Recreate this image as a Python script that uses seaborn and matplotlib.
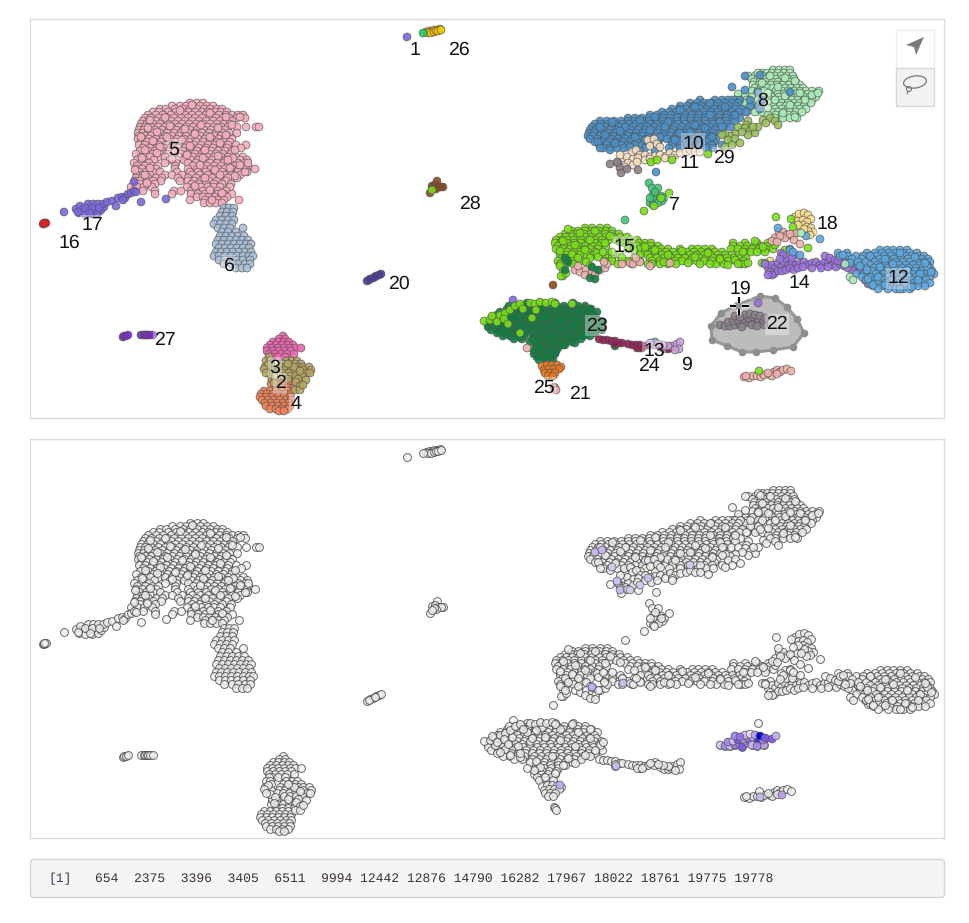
import matplotlib
matplotlib.use("Agg")
import matplotlib.pyplot as plt
import pandas as pd
import seaborn as sns
from matplotlib.colors import LinearSegmentedColormap
from matplotlib.patches import Circle, Ellipse, FancyBboxPatch, Polygon, Rectangle

sns.set_theme(style="white")
plt.rcParams["font.family"] = ["Liberation Sans", "DejaVu Sans"]
plt.rcParams["text.hinting"] = "no_hinting"

# embedding values, one dict per big cluster: {y: [x, x, ...]}
c5 = {103: [190, 197, 203], 106: [172, 180, 186, 193, 200, 207, 213],
      109: [160, 166, 175, 183, 190, 197, 204, 210, 217, 222],
      112: [153, 159, 168, 176, 182, 189, 195, 202, 208, 215, 221, 227],
      115: [148, 156, 163, 171, 178, 185, 192, 199, 206, 212, 219, 226, 232, 238, 243],
      118: [145, 151, 159, 167, 174, 181, 188, 195, 202, 209, 216, 223, 229, 237, 245],
      121: [143, 149, 156, 163, 171, 178, 185, 192, 199, 206, 213, 220, 226, 232],
      124: [141, 147, 153, 160, 168, 175, 182, 189, 196, 203, 210, 217, 224, 230],
      127: [140, 145, 151, 158, 165, 172, 179, 186, 193, 200, 207, 214, 221, 228, 237, 246, 256, 259],
      130: [139, 144, 149, 155, 162, 169, 176, 183, 190, 197, 204, 211, 218, 225],
      133: [138, 143, 148, 153, 160, 167, 174, 181, 188, 195, 202, 209, 216, 223, 229, 237],
      136: [139, 145, 151, 158, 165, 172, 179, 186, 193, 200, 207, 214, 221, 227],
      139: [138, 143, 149, 156, 163, 170, 177, 184, 191, 198, 205, 212, 219, 225, 232],
      142: [141, 147, 154, 161, 168, 175, 182, 189, 196, 203, 210, 217, 224, 230],
      145: [139, 145, 152, 159, 166, 173, 180, 187, 194, 201, 208, 215, 222, 228, 236, 246],
      148: [143, 150, 157, 164, 171, 178, 185, 192, 199, 206, 213, 220, 227, 241],
      151: [140, 148, 155, 162, 169, 176, 183, 190, 197, 204, 211, 218, 225, 232],
      154: [136, 146, 153, 160, 167, 174, 181, 188, 195, 202, 209, 216, 223, 231],
      157: [141, 150, 158, 165, 172, 179, 186, 193, 200, 207, 214, 221, 228, 236, 243],
      160: [137, 144, 154, 170, 177, 184, 191, 198, 205, 212, 219, 226, 233, 240, 247],
      163: [134, 141, 149, 165, 176, 188, 196, 203, 210, 217, 224, 231, 238, 245],
      166: [137, 145, 152, 158, 175, 193, 200, 207, 214, 221, 228, 235, 242, 248],
      169: [136, 142, 149, 156, 175, 188, 197, 204, 211, 218, 225, 232, 239, 246, 255],
      172: [139, 146, 153, 160, 177, 190, 198, 206, 214, 222, 230, 238, 247],
      175: [137, 143, 150, 165, 172, 182, 192, 200, 208, 216, 224, 232, 240],
      178: [136, 142, 148, 156, 162, 178, 188, 196, 204, 212, 220, 228, 237],
      181: [135, 140, 147, 153, 161, 180, 188, 194, 201, 209, 217, 226],
      184: [140, 147, 155, 192, 199, 206, 214, 222, 231],
      187: [131, 137, 144, 152, 187, 194, 201, 208, 214, 220, 230],
      191: [143, 155, 174, 181, 191, 196, 203, 210, 218, 226],
      194: [155, 172, 191, 198, 205, 212, 218, 224, 232],
      197: [197, 203, 209, 215, 221, 227],
      200: [190, 205, 212, 218, 224, 239],
      203: [204, 210, 216, 222]}
c6 = {208: [224, 229, 234], 212: [222, 227, 233], 216: [220, 226, 232], 220: [216, 222, 228, 234],
      224: [214, 220, 226, 232], 228: [218, 224, 230, 243], 232: [222, 228, 236],
      236: [220, 226, 232, 238, 244], 240: [218, 224, 230, 236, 242, 248],
      244: [216, 222, 228, 234, 240, 246, 251], 248: [219, 225, 231, 237, 243, 249],
      252: [216, 221, 227, 233, 239, 245, 251], 256: [214, 219, 225, 231, 237, 243, 249, 253],
      260: [219, 225, 231, 237, 243, 250], 264: [224, 232, 238, 245, 250], 268: [236, 242, 247]}
c3 = {336: [283], 339: [279, 285], 342: [273, 278, 284, 289], 345: [270, 276, 282, 288, 293],
      348: [267, 272, 278, 284, 290, 295, 301], 351: [267, 273, 279, 285, 291],
      354: [269, 275, 281, 287, 294], 357: [272, 278, 285]}
c2 = {357: [269], 361: [266, 270, 286, 292, 297], 364: [271, 283, 289, 295, 301],
      367: [265, 280, 286, 292, 298, 303, 309], 370: [271, 279, 285, 291, 297, 303, 311],
      373: [277, 283, 289, 295, 301, 307], 376: [284, 290, 296, 302], 379: [272, 288, 298],
      382: [296], 386: [300], 390: [295, 300]}
c4 = {376: [292], 380: [272, 278, 284, 290, 296], 384: [271, 277, 283, 289, 295], 388: [276, 282, 288, 294],
      391: [264, 270, 276, 282, 288], 394: [261, 267, 273, 279, 285, 291], 397: [260, 266, 272, 278, 284, 290],
      400: [262, 268, 274, 280, 286, 291], 403: [265, 271, 277, 283, 289], 406: [266, 272, 278, 284, 290],
      409: [270, 276, 282, 288], 411: [279, 284]}
c8 = {70: [773, 779, 785, 790], 73: [762, 767, 772, 778, 784, 790],
      76: [748, 755, 763, 769, 775, 781, 787, 793], 79: [752, 758, 764, 770, 776, 782, 788, 794],
      82: [754, 760, 766, 772, 778, 784, 790, 796], 85: [753, 759, 765, 771, 777, 783, 789, 795, 800],
      88: [755, 761, 767, 773, 779, 785, 791, 797, 803],
      91: [752, 758, 764, 776, 782, 788, 794, 800, 806, 812, 819],
      94: [757, 770, 778, 784, 790, 796, 802, 808, 815],
      97: [738, 745, 752, 765, 772, 779, 786, 792, 798, 804, 810, 816],
      100: [732, 740, 747, 758, 774, 780, 786, 792, 798, 804, 812],
      103: [726, 735, 743, 770, 776, 782, 788, 794, 800, 806, 811],
      106: [702, 710, 718, 732, 740, 748, 752, 774, 780, 786, 792, 798, 804],
      109: [697, 706, 715, 738, 755, 775, 782, 788, 794, 800, 806],
      112: [690, 700, 747, 755, 762, 772, 778, 784, 790, 796, 802],
      115: [768, 776, 782, 788, 794], 118: [775, 783, 790, 797]}
c10 = {100: [700, 715, 722, 728, 735, 740], 103: [690, 697, 704, 711, 718, 725, 732, 738],
       106: [680, 687, 694, 701, 708, 715, 722, 729, 736, 750, 758],
       109: [672, 679, 686, 693, 700, 707, 714, 721, 728, 735, 742, 760],
       112: [662, 669, 676, 683, 690, 697, 704, 711, 718, 725, 732, 739, 746],
       115: [650, 657, 664, 671, 678, 685, 692, 699, 706, 713, 720, 727, 734],
       118: [628, 635, 642, 649, 656, 663, 670, 677, 684, 691, 698, 705, 712, 719, 726, 733, 740],
       121: [600, 607, 614, 621, 628, 635, 642, 649, 656, 663, 670, 677, 684, 691, 698, 705, 712, 719, 726, 735],
       124: [595, 601, 608, 615, 622, 629, 636, 643, 650, 657, 664, 671, 678, 685, 692, 699, 706, 713, 720, 727],
       127: [592, 598, 605, 612, 619, 626, 633, 640, 647, 654, 661, 668, 675, 682, 689, 696, 703, 710, 717, 724, 731],
       130: [590, 596, 603, 610, 617, 624, 631, 638, 645, 652, 659, 666, 673, 680, 687, 694, 701, 708, 715, 722],
       133: [589, 594, 601, 608, 615, 622, 629, 636, 643, 650, 657, 664, 671, 678, 685, 692, 699, 706, 713, 720],
       136: [588, 593, 600, 607, 614, 621, 628, 635, 642, 649, 656, 663, 670, 677, 684, 691, 698, 705, 712],
       139: [590, 597, 604, 611, 618, 625, 632, 639, 646, 653, 660, 667, 674, 681, 688, 695, 702, 709, 716],
       142: [595, 602, 609, 616, 623, 630, 637, 644, 651, 658, 672, 679, 686, 693, 700, 707, 714],
       145: [600, 607, 614, 621, 628, 635, 642, 650, 658, 672, 680, 688, 696, 704, 712, 722],
       148: [603, 610, 617, 624, 631, 645, 669, 690, 698, 706, 713], 151: [640, 655]}
c15 = {228: [585, 592, 600, 607], 231: [572, 578, 585, 592, 599, 606, 612],
       234: [565, 571, 577, 584, 591, 598, 605, 612, 619],
       237: [560, 566, 572, 578, 585, 592, 599, 606, 613, 620, 627],
       240: [556, 562, 568, 574, 581, 588, 595, 602, 609, 616, 623, 630, 637],
       243: [555, 561, 567, 574, 581, 588, 595, 602, 625, 632, 639, 645, 651, 733, 745, 757, 768],
       246: [558, 564, 571, 578, 585, 592, 599, 606, 630, 637, 644, 651, 658, 733, 740, 747, 754, 762, 769],
       249: [556, 563, 570, 577, 584, 590, 598, 628, 640, 647, 654, 661, 668, 680, 692, 698, 705, 712, 731, 738, 745, 752, 759, 766, 773],
       252: [560, 567, 574, 581, 588, 595, 645, 652, 659, 666, 673, 680, 687, 694, 701, 708, 715, 722, 745, 751, 757, 765],
       255: [560, 566, 573, 580, 587, 594, 608, 620, 640, 648, 655, 662, 669, 676, 683, 690, 697, 704, 711, 718, 725, 732, 739],
       258: [562, 570, 590, 606, 612, 622, 650, 657, 664, 671, 678, 685, 692, 699, 706, 713, 720, 727, 734, 741, 746],
       261: [558, 572, 580, 604, 612, 628, 640, 652, 660, 668, 675, 682, 690, 697, 704, 712, 720, 728, 736, 744],
       264: [560, 566, 618, 632, 648, 660, 668, 676, 700, 716, 724, 741, 745],
       270: [563], 276: [563, 561]}
c12 = {250: [880, 887, 893, 900, 907], 253: [838, 847, 867, 875, 882, 889, 896, 903, 910, 917],
       256: [840, 848, 856, 863, 870, 877, 884, 891, 898, 905, 912, 919, 924],
       259: [852, 862, 872, 880, 887, 894, 901, 908, 915, 922, 928],
       262: [866, 875, 882, 889, 896, 903, 910, 917, 924, 930],
       265: [858, 870, 878, 885, 892, 899, 906, 913, 920, 927],
       268: [866, 874, 881, 888, 895, 902, 909, 916, 923, 930],
       271: [872, 880, 887, 894, 901, 908, 915, 922, 928, 932],
       274: [856, 864, 876, 884, 891, 898, 905, 912, 919, 926, 934],
       277: [862, 870, 880, 888, 895, 902, 909, 916, 923, 930],
       280: [866, 875, 884, 891, 898, 905, 912, 919, 926],
       283: [870, 878, 886, 893, 900, 907, 914, 921, 930],
       286: [873, 882, 890, 897, 904, 911, 918, 925], 289: [878, 888, 896, 903, 910]}
c23 = {303: [527, 540, 555, 573], 306: [515, 522, 529, 536, 543, 550, 557, 564, 571, 578, 585],
       309: [507, 514, 521, 528, 535, 542, 549, 556, 563, 570, 577, 584, 591],
       312: [500, 506, 513, 520, 527, 534, 541, 548, 555, 562, 569, 576, 583, 590, 597],
       315: [497, 503, 510, 517, 524, 531, 538, 545, 552, 559, 566, 573, 580, 587, 594],
       318: [492, 498, 505, 512, 519, 526, 533, 540, 547, 554, 561, 568, 575, 582, 589, 596],
       321: [490, 496, 503, 510, 517, 524, 531, 538, 545, 552, 559, 566, 573, 580, 587, 594, 601],
       324: [488, 494, 501, 508, 515, 522, 529, 536, 543, 550, 557, 564, 571, 578, 585, 592, 599],
       327: [488, 495, 502, 509, 516, 523, 530, 537, 544, 551, 558, 565, 572, 579, 586, 593, 600],
       330: [491, 498, 505, 512, 519, 526, 533, 540, 547, 554, 561, 568, 575, 582, 589, 596, 602],
       333: [497, 504, 511, 518, 525, 532, 539, 546, 553, 560, 567, 574, 581, 588, 595],
       336: [503, 510, 517, 524, 534, 541, 548, 555, 562, 569, 576, 583, 590],
       339: [514, 522, 532, 539, 546, 553, 560, 567, 574, 581],
       342: [530, 537, 544, 551, 558, 565, 572], 345: [536, 543, 550, 558, 565],
       348: [537, 544, 551, 558], 351: [535, 542, 549, 556], 354: [534, 541, 548, 555],
       357: [537, 544, 551], 360: [539, 546, 553]}

# off-row points inside the big clusters, as (x, y)
c5_more = [(150, 120), (165, 117.5), (180, 110.5), (192, 105), (210, 113), (226, 117), (240, 117), (148, 128),
           (157, 132), (170, 126), (185, 129), (201, 125), (218, 128), (232, 125), (141, 137), (153, 141), (167, 137),
           (182, 140), (195, 134), (210, 137), (226, 135), (145, 150), (160, 147), (175, 152), (190, 146), (205, 150),
           (220, 143), (235, 150), (142, 158), (157, 153), (172, 159), (187, 155), (203, 158), (218, 156), (233, 158),
           (248, 163), (150, 168), (200, 165), (215, 170), (230, 168), (245, 172), (205, 178), (220, 175), (235, 176),
           (145, 175), (195, 186), (210, 190), (222, 193), (212, 200), (147, 183), (135, 170), (228, 160), (240, 165)]
c10_more = [(600, 127), (612, 122), (625, 127), (640, 120), (655, 117), (668, 122), (680, 110), (695, 107), (710, 103),
            (725, 107), (605, 135), (620, 131), (635, 137), (650, 130), (665, 127), (680, 133), (695, 125), (710, 115),
            (615, 143), (630, 147), (645, 140), (660, 137), (675, 140), (690, 132), (705, 128), (720, 122), (735, 115),
            (598, 142), (700, 145), (712, 137), (722, 127), (610, 150), (600, 148), (680, 148)]
c15_more = [(568, 229), (580, 233), (595, 231), (610, 236), (563, 241), (575, 245), (590, 240), (605, 243), (620, 242),
            (560, 251), (572, 254), (585, 250), (597, 253), (566, 260), (578, 258), (586, 262), (612, 252), (622, 258),
            (634, 250), (634, 258), (645, 247), (655, 250), (668, 255), (682, 251), (695, 257), (708, 253), (720, 259),
            (735, 260), (748, 263), (652, 264), (664, 262), (688, 263), (710, 264), (728, 265), (738, 264), (743, 252),
            (755, 241), (763, 247), (775, 245), (560, 266), (573, 264), (566, 273), (598, 257), (603, 252), (590, 266)]
c12_more = [(843, 255), (858, 262), (870, 256), (885, 259), (900, 253), (915, 257), (927, 267), (880, 267), (893, 264),
            (907, 270), (920, 274), (867, 270), (878, 277), (892, 280), (905, 283), (918, 280), (931, 272), (925, 263),
            (885, 285), (900, 289), (912, 287), (868, 279), (860, 266), (850, 263), (873, 285)]
c23_more = [(495, 325), (505, 329), (518, 326), (530, 321), (545, 317), (560, 320), (575, 326), (590, 318), (600, 325),
            (512, 317), (527, 312), (542, 307), (560, 309), (578, 312), (590, 309), (500, 332), (520, 337), (536, 341),
            (552, 336), (568, 338), (585, 335), (540, 347), (555, 353), (545, 357), (534, 350), (563, 345), (575, 343),
            (595, 330), (603, 322), (510, 335)]
c8_more = [(758, 73), (770, 76), (785, 78), (762, 83), (778, 87), (795, 81), (768, 93), (785, 96), (800, 93), (812, 95),
           (760, 103), (775, 100), (790, 105), (805, 100), (818, 93), (768, 108), (783, 113), (795, 117), (745, 103),
           (722, 109), (708, 104), (738, 94)]
c2_more = [(268, 365), (264, 369), (270, 374), (275, 377), (266, 373), (274, 383), (306, 380), (303, 385), (294, 367),
           (288, 364), (300, 371), (310, 373)]

# small clusters and strays as (x, y)
c17 = [(64, 212), (76, 209), (79, 213), (82, 209), (85, 214), (89, 210), (92, 214), (95, 210), (98, 213),
       (101, 210), (104, 207), (80, 206), (88, 204), (93, 204), (98, 204), (103, 204), (107, 202), (112, 201),
       (116, 206), (118, 198), (122, 197), (125, 198), (123, 200), (128, 194), (131, 193), (134, 191),
       (134, 182), (141, 202), (166, 199), (136, 192), (78, 212), (85, 208), (92, 208), (99, 208), (90, 213),
       (407, 37), (513, 300)]
c16 = [(43, 224), (44, 224), (45, 223), (46, 223), (44, 223)]
c26 = [(426, 32), (429, 31), (432, 31), (434, 30), (437, 30), (440, 29), (428, 33), (431, 33), (434, 32), (436, 31),
       (438, 31), (441, 30)]
c1 = [(423, 33)]
c28 = [(430, 193), (437, 181), (443, 187), (432, 186), (435, 185), (438, 187), (441, 187), (436, 189), (434, 188),
       (553, 285), (502, 324), (508, 331)]
c20 = [(367, 281), (370, 279), (373, 278), (376, 276), (379, 275), (381, 274), (369, 280), (375, 277)]
c27 = [(123, 337), (124, 336), (126, 336), (128, 335), (141, 335), (144, 335), (145, 335), (147, 335), (148, 335),
       (150, 335), (153, 335)]
c10_stray = [(732, 87), (745, 76), (745, 90), (656, 172), (750, 100), (762, 100), (758, 92), (760, 75), (790, 92)]
c29 = [(763, 120), (770, 118), (775, 121), (778, 125), (766, 123), (748, 121), (746, 125), (738, 127), (745, 128),
       (750, 131), (755, 133), (748, 135), (742, 132), (735, 134), (730, 136), (725, 134), (722, 135), (728, 140),
       (735, 139), (740, 143), (732, 145), (725, 147), (758, 127), (753, 127)]
c11 = [(648, 140), (654, 139), (650, 146), (657, 144), (660, 147), (632, 152), (636, 150), (640, 155), (645, 155),
       (650, 157), (655, 156), (660, 155), (666, 156), (670, 153), (675, 155), (680, 153), (686, 152), (690, 150),
       (695, 152), (700, 152), (622, 158), (627, 157), (633, 159), (638, 158), (645, 160), (650, 159), (665, 158),
       (672, 158), (628, 163), (633, 165), (625, 167), (637, 162), (620, 155)]
c22 = [(610, 164), (618, 163), (620, 168), (621, 173), (627, 169), (638, 170), (617, 162),
       (720, 325), (725, 326), (730, 326), (735, 325), (740, 324), (745, 323), (750, 322), (755, 321), (760, 323),
       (764, 325), (728, 322), (733, 321), (738, 320), (743, 319), (748, 318), (753, 317), (758, 319), (763, 320),
       (745, 315), (750, 314), (755, 315), (735, 316), (740, 317), (760, 316), (765, 318), (752, 325), (757, 326),
       (742, 327)]
c7 = [(649, 183), (652, 188), (658, 188), (653, 195), (657, 196), (661, 196), (655, 199), (650, 203), (660, 199),
      (664, 198), (662, 201), (658, 203), (653, 205), (655, 192), (650, 198), (625, 220)]
c18 = [(795, 217), (799, 214), (804, 213), (808, 215), (811, 219), (798, 221), (803, 220), (807, 222), (803, 225),
       (807, 227), (811, 228), (813, 232), (808, 231), (804, 229), (810, 235), (798, 225), (863, 257), (770, 261)]
c21 = [(775, 238), (772, 241), (779, 232), (783, 232), (787, 235), (792, 236), (796, 233), (785, 238), (790, 234),
       (780, 236), (794, 240), (777, 242), (800, 244),
       (744, 377), (749, 378), (753, 376), (757, 376), (761, 377), (764, 375), (770, 375), (774, 372), (777, 370),
       (780, 372), (783, 370), (787, 369), (791, 371), (772, 376), (777, 374), (768, 373), (746, 376),
       (575, 270), (580, 272), (586, 270), (592, 272), (600, 270), (605, 268), (607, 264), (585, 275), (595, 275),
       (578, 266), (604, 262), (622, 264), (630, 263), (633, 264), (640, 262), (650, 266), (670, 263), (636, 258),
       (527, 348), (554, 387), (555, 388), (556, 390)]
c15_stray = [(651, 162), (657, 160), (672, 160), (708, 154), (669, 193), (644, 211), (661, 198), (654, 206),
             (776, 217), (791, 219), (793, 227), (785, 250), (808, 248), (762, 263), (765, 263), (432, 190), (759, 371),
             (484, 321), (490, 320), (495, 318), (500, 315), (505, 313), (510, 310), (515, 306), (520, 304), (530, 303),
             (535, 304), (540, 302), (546, 303), (552, 302), (555, 304), (523, 309), (536, 310),
             (492, 316), (497, 322), (504, 319), (508, 324), (520, 333), (532, 318), (572, 304)]
c23_stray = [(565, 258), (568, 262), (592, 267), (598, 270), (590, 278), (595, 279), (565, 270), (509, 306), (615, 346)]
c12_stray = [(778, 228), (820, 239), (806, 236), (790, 250), (793, 252), (800, 255), (655, 342)]
c14 = [(768, 268), (772, 265), (775, 268), (778, 263), (781, 267), (784, 262), (788, 266), (792, 263), (796, 265),
       (800, 263), (804, 262), (808, 265), (812, 263), (816, 262), (820, 265), (824, 263), (828, 262), (832, 265),
       (836, 267), (840, 264), (844, 266), (770, 272), (774, 274), (778, 271), (782, 271), (786, 270), (790, 268),
       (794, 270), (798, 268), (772, 275), (768, 275), (825, 256), (830, 258), (835, 260), (840, 258), (845, 260),
       (850, 262), (855, 267), (860, 270), (866, 272), (865, 280), (868, 284), (852, 270), (790, 249), (781, 253),
       (786, 258), (783, 255), (795, 255), (765, 264), (758, 303), (875, 270), (876, 278), (803, 267), (812, 268),
       (821, 268), (828, 267), (838, 261), (848, 268), (858, 263), (780, 259), (792, 258)]
c25 = [(542, 366), (547, 365), (552, 365), (557, 365), (561, 367), (544, 370), (549, 369), (554, 369), (559, 369),
       (545, 373), (550, 373), (555, 373), (548, 376), (553, 376), (640, 348)]
c24 = [(599, 339), (603, 340), (607, 340), (611, 341), (615, 341), (619, 343), (622, 343), (615, 344),
       (628, 344), (632, 345), (636, 345), (640, 345), (644, 346), (648, 345), (637, 348), (642, 348),
       (660, 347), (664, 349), (668, 349), (671, 348)]
c9 = [(672, 346), (677, 344), (680, 342), (679, 349), (675, 350), (668, 346), (663, 345), (654, 345), (658, 344),
      (650, 343)]
c8_stray = [(801, 233), (845, 264), (850, 277), (853, 280)]

cluster_colors = {"5": "#f4aebc", "6": "#a9bfd8", "17": "#7a66e2", "16": "#ee1c1c", "1": "#22cc66", "26": "#f5c800",
                  "28": "#8b4a1e", "20": "#4a3f99", "27": "#7a2cc8", "3": "#f064b0", "4": "#f08055", "2": "#b5a55e",
                  "10": "#4a90c8", "8": "#a8edb5", "29": "#9ac05a", "11": "#f5dec0", "22": "#8c8088", "7": "#3cc878",
                  "18": "#f7e08a", "21": "#eeb0aa", "15": "#78e014", "23": "#0d8040", "14": "#9b6fe0", "12": "#5aa8e0",
                  "25": "#e87820", "24": "#8e1f55", "9": "#c8a0d8"}

# selected cells shown in the lower panel, with their expression level
hi_x = [720, 725, 730, 735, 740, 745, 750, 755, 760, 764, 728, 733, 738, 743, 748, 753, 758, 763, 745, 750, 755, 735,
        740, 760, 765, 752, 757, 742, 772, 776, 595, 612, 620, 617, 630, 648, 690, 592, 623, 616, 560, 760, 782, 602, 640]
hi_y = [325, 326, 326, 325, 324, 323, 322, 321, 323, 325, 322, 321, 320, 319, 318, 317, 319, 320, 315, 314, 315, 316,
        317, 316, 318, 325, 326, 327, 319, 316, 132, 147, 170, 161, 170, 158, 145, 267, 263, 346, 365, 377, 375, 130, 165]
hi_val = [.2, .5, .3, .6, .4, .3, .7, .5, .6, .4, .5, .3, .7, .4, .6, .3, .85, .5, .2, .1, .4, .5, .6, 1.0, .7, .3, .5,
          .7, .7, .35, .3, .2, .3, .25, .2, .25, .2, .35, .3, .3, .35, .3, .4, .3, .2]

code_text = "654  2375  3396  3405  6511  9994 12442 12876 14790 16282 17967 18022 18761 19775 19778"

labels = {"1": (415, 49), "26": (459, 48), "5": (174, 148), "17": (92, 224), "16": (69, 241), "6": (228, 264),
          "28": (470, 202), "20": (399, 282), "27": (165, 339), "3": (275, 366), "2": (280, 382), "4": (296, 403),
          "8": (763, 99), "10": (693, 142), "11": (690, 162), "29": (724, 156), "7": (674, 204), "18": (827, 222),
          "15": (624, 245), "12": (898, 277), "14": (799, 282), "19": (740, 287), "22": (777, 323), "23": (597, 324),
          "13": (654, 349), "24": (649, 365), "9": (687, 363), "25": (544, 386), "21": (580, 393)}
lasso = [(760, 296), (775, 298), (787, 307), (797, 319), (804, 333), (793, 347), (773, 350), (756, 352), (742, 352),
         (727, 346), (712, 340), (711, 326), (721, 313), (737, 305)]


def rows_to_pairs(rows):
    return [(x, y) for y, xs in rows.items() for x in xs]


parts = [("5", rows_to_pairs(c5)), ("5", c5_more), ("6", rows_to_pairs(c6)), ("17", c17), ("16", c16), ("26", c26),
         ("1", c1), ("28", c28), ("20", c20), ("27", c27), ("3", rows_to_pairs(c3)), ("4", rows_to_pairs(c4)),
         ("2", rows_to_pairs(c2)), ("2", c2_more), ("8", rows_to_pairs(c8)), ("8", c8_more),
         ("10", rows_to_pairs(c10)), ("10", c10_more), ("10", c10_stray),
         ("29", c29), ("11", c11), ("22", c22), ("7", c7), ("18", c18), ("23", rows_to_pairs(c23)), ("23", c23_more),
         ("15", rows_to_pairs(c15)), ("15", c15_more), ("21", c21), ("23", c23_stray), ("15", c15_stray), ("14", c14),
         ("12", rows_to_pairs(c12)), ("12", c12_more), ("12", c12_stray), ("8", c8_stray), ("25", c25), ("24", c24),
         ("9", c9)]
df = pd.DataFrame([(name, x, y) for name, pts in parts for x, y in pts], columns=["cluster", "x", "y"])
df_hi = pd.DataFrame({"x": hi_x, "y": hi_y, "val": hi_val})

W, H = 969, 923
fig = plt.figure(figsize=(W / 100, H / 100), dpi=100)
ax1 = fig.add_axes([30 / W, 1 - 418 / H, 914 / W, 399 / H])
ax2 = fig.add_axes([30 / W, 1 - 838 / H, 914 / W, 399 / H])

# lasso selection sits under the points
ax1.add_patch(Polygon(lasso, closed=True, facecolor="#bcbcbc", edgecolor="#979797", linewidth=2.2, zorder=0))
ax1.scatter(*zip(*lasso), s=20, color="#8e8e8e", zorder=0.5)

sns.scatterplot(data=df, x="x", y="y", hue="cluster", palette=cluster_colors, s=32, alpha=0.9,
                edgecolor="#555555", linewidth=0.5, legend=False, ax=ax1)
sns.scatterplot(data=df, x="x", y="y", color="#f0f0f0", s=32, alpha=0.8,
                edgecolor="#444444", linewidth=0.7, legend=False, ax=ax2)
expr_cmap = LinearSegmentedColormap.from_list("expr", ["#eeeeee", "#c4b0f0", "#8a60e8", "#0000e0"])
sns.scatterplot(data=df_hi, x="x", y="y", hue="val", hue_norm=(0, 1), palette=expr_cmap, s=32, alpha=0.95,
                edgecolor="#555555", linewidth=0.5, legend=False, ax=ax2)

for ax in (ax1, ax2):
    ax.set_xlim(30, 944)
    ax.set_ylim(418, 19)
    ax.set_xticks([])
    ax.set_yticks([])
    ax.set_xlabel("")
    ax.set_ylabel("")
    for sp in ax.spines.values():
        sp.set_color("#dcdcdc")
        sp.set_linewidth(1)

for name, (lx, ly) in labels.items():
    ax1.text(lx, ly + 1.5, name, fontsize=14, color="#111111", ha="center", va="center", zorder=5,
             bbox=dict(facecolor="white", alpha=0.35, edgecolor="none", pad=1))

# page furniture: toolbar, cursor, console box
page = fig.add_axes([0, 0, 1, 1], zorder=10)
page.set_xlim(0, W)
page.set_ylim(H, 0)
page.axis("off")
page.patch.set_alpha(0)
page.add_patch(Rectangle((896, 30), 38, 38, facecolor="white", edgecolor="#eeeeee", linewidth=1))
page.add_patch(Rectangle((896, 68), 38, 38, facecolor="#f2f2f2", edgecolor="#d8d8d8", linewidth=1))
page.add_patch(Polygon([(924, 37), (906, 45), (914, 47), (916, 55)], closed=True, facecolor="#7a7a7a", edgecolor="none"))
page.add_patch(Ellipse((915, 82), 23, 12, angle=-8, facecolor="none", edgecolor="#777777", linewidth=0.9))
page.add_patch(Circle((909, 89), 2.5, facecolor="none", edgecolor="#777777", linewidth=0.8))
page.plot([908, 907], [91, 94], color="#777777", linewidth=0.8)
for x0, y0, x1, y1 in [(730, 306, 736, 306), (742, 306, 749, 306), (739, 297, 739, 303), (739, 309, 739, 315)]:
    page.plot([x0, x1], [y0, y1], color="white", linewidth=3.2, solid_capstyle="butt")
    page.plot([x0, x1], [y0, y1], color="black", linewidth=1.6, solid_capstyle="butt")
page.add_patch(FancyBboxPatch((30.5, 859.5), 914, 38, boxstyle="round,pad=0,rounding_size=3", mutation_aspect=1,
                              facecolor="#f5f5f5", edgecolor="#d4d4d4", linewidth=1))
page.text(48, 878.5, "[1]", family="Liberation Mono", fontsize=9.35, color="#3a3a55", va="center")
page.text(95, 878.5, code_text, family="Liberation Mono", fontsize=9.35, color="#3a3030", va="center")

fig.savefig("out.png", dpi=100)
